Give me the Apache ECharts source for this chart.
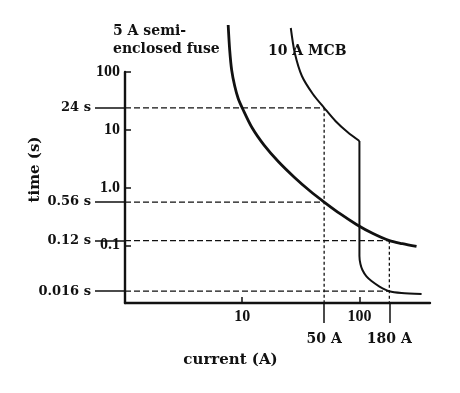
<!DOCTYPE html>
<html><head><meta charset="utf-8">
<script src="https://cdn.jsdelivr.net/npm/echarts@6/dist/echarts.min.js"></script>
<style>html,body{margin:0;padding:0;background:#fff}#c{width:460px;height:393px}</style>
</head><body><div id="c"></div>
<script>
// axis ranges
const currentMin = 1, currentMax = 400;
const timeMin = 0.01, timeMax = 100;
// tick labels
const timeTicks = [0.1, 1, 10, 100];
const timeTickLabels = ['0.1', '1.0', '10', '100'];
const currentTicks = [10, 100];
const currentTickLabels = ['10', '100'];
// marked operating points
const timeMarks = [24, 0.56, 0.12, 0.016];
const timeMarkLabels = ['24 s', '0.56 s', '0.12 s', '0.016 s'];
const timeMarkReach = [50, 50, 180, 180];      // current (A) where each horizontal guide stops
const currentMarks = [50, 180];
const currentMarkLabels = ['50 A', '180 A'];
const currentMarkReach = [24, 0.12];           // time (s) where each vertical guide starts
// curves [current A, time s]
const fuseCurve = [[7.59,651],[7.82,240],[8.13,108],[8.63,57.2],[9.24,34.8],[10,24],[12.18,10.7],[15.42,5.36],[20.3,2.82],[27.8,1.51],[38.1,0.86],[50,0.56],[68.8,0.348],[94.3,0.229],[129.2,0.161],[180,0.12],[233,0.1063],[307,0.0952]];
const mcbUpper = [[25.97,578],[28.1,213],[32.3,85.2],[40.05,41.6],[50,24],[62.4,14.2],[79,9.14],[100,6.39]];
const mcbLower = [[100,6.39],[100,0.607],[100,0.0652],[102,0.0473],[106.1,0.0373],[114.8,0.0288],[126.7,0.024],[148.3,0.0193],[180,0.016],[228.6,0.0149],[339,0.0143]];

const ink = '#111';
const serif = 'DejaVu Serif';
const tickFont = 'Liberation Serif';

function fmt(vals, labels) {
  return v => { for (let i = 0; i < vals.length; i++) if (Math.abs(v / vals[i] - 1) < 1e-6) return labels[i]; return ''; };
}

const series = [];
timeMarks.forEach((t, i) => series.push({
  type: 'line', xAxisIndex: 0, yAxisIndex: 0, symbol: 'none', silent: true,
  data: [[currentMin, t], [timeMarkReach[i], t]],
  lineStyle: { color: ink, width: 1.3, type: [6, 3] }
}));
currentMarks.forEach((c, i) => series.push({
  type: 'line', xAxisIndex: 0, yAxisIndex: 0, symbol: 'none', silent: true,
  data: [[c, currentMarkReach[i]], [c, timeMin]],
  lineStyle: { color: ink, width: 1.3, type: [3, 2.5] }
}));
series.push({ type: 'line', symbol: 'none', clip: false, smooth: 0.3, data: fuseCurve, lineStyle: { color: ink, width: 2.8 } });
series.push({ type: 'line', symbol: 'none', clip: false, smooth: 0.3, data: mcbUpper, lineStyle: { color: ink, width: 2 } });
series.push({ type: 'line', symbol: 'none', clip: false, smooth: 0.25, data: mcbLower, lineStyle: { color: ink, width: 2 } });

const chart = echarts.init(document.getElementById('c'), null, { renderer: 'canvas' });
chart.setOption({
  animation: false,
  backgroundColor: '#fff',
  grid: { left: 125, top: 72, width: 305, height: 231, containLabel: false, outerBoundsMode: 'none' },
  xAxis: [
    {
      type: 'log', min: currentMin, max: currentMax, position: 'bottom',
      name: 'current (A)', nameLocation: 'middle', nameGap: 50,
      nameTextStyle: { fontFamily: serif, fontSize: 15, fontWeight: 'bold', color: ink, padding: [0, 94, 0, 0] },
      axisLine: { show: true, lineStyle: { color: ink, width: 2.4 } },
      axisTick: { show: true, inside: true, length: 6, customValues: currentTicks, lineStyle: { color: ink, width: 1.5 } },
      axisLabel: { customValues: currentTicks, formatter: fmt(currentTicks, currentTickLabels), margin: 6, fontFamily: tickFont, fontWeight: 'bold', fontSize: 16, color: ink },
      splitLine: { show: false }, minorTick: { show: false }
    },
    {
      type: 'log', min: currentMin, max: currentMax, position: 'bottom', gridIndex: 0,
      axisLine: { show: false },
      axisTick: { show: true, inside: false, length: 20, customValues: currentMarks, lineStyle: { color: ink, width: 1.5 } },
      axisLabel: { customValues: currentMarks, formatter: fmt(currentMarks, currentMarkLabels), margin: 29, fontFamily: serif, fontWeight: 'bold', fontSize: 14, color: ink },
      splitLine: { show: false }
    }
  ],
  yAxis: [
    {
      type: 'log', min: timeMin, max: timeMax, position: 'left',
      name: 'time (s)', nameLocation: 'middle', nameGap: 82, nameRotate: 90,
      nameTextStyle: { fontFamily: serif, fontSize: 15, fontWeight: 'bold', color: ink, padding: [0, 0, 0, 36] },
      axisLine: { show: true, lineStyle: { color: ink, width: 2.4 } },
      axisTick: { show: true, inside: true, length: 6, customValues: timeTicks, lineStyle: { color: ink, width: 1.5 } },
      axisLabel: { customValues: timeTicks, formatter: fmt(timeTicks, timeTickLabels), margin: 5, fontFamily: tickFont, fontWeight: 'bold', fontSize: 16, color: ink },
      splitLine: { show: false }
    },
    {
      type: 'log', min: timeMin, max: timeMax, position: 'left', gridIndex: 0,
      axisLine: { show: false },
      axisTick: { show: true, inside: false, length: 30, customValues: timeMarks, lineStyle: { color: ink, width: 1.5 } },
      axisLabel: { customValues: timeMarks, formatter: fmt(timeMarks, timeMarkLabels), margin: 34, fontFamily: serif, fontWeight: 'bold', fontSize: 13, color: ink },
      splitLine: { show: false }
    }
  ],
  graphic: [
    { type: 'text', left: 113, top: 22, style: { text: '5 A semi-\nenclosed fuse', font: 'bold 14px "DejaVu Serif"', lineHeight: 18, fill: ink } },
    { type: 'text', left: 268, top: 44, style: { text: '10 A MCB', font: 'bold 14px "DejaVu Serif"', fill: ink } }
  ],
  series: series
});
</script></body></html>
